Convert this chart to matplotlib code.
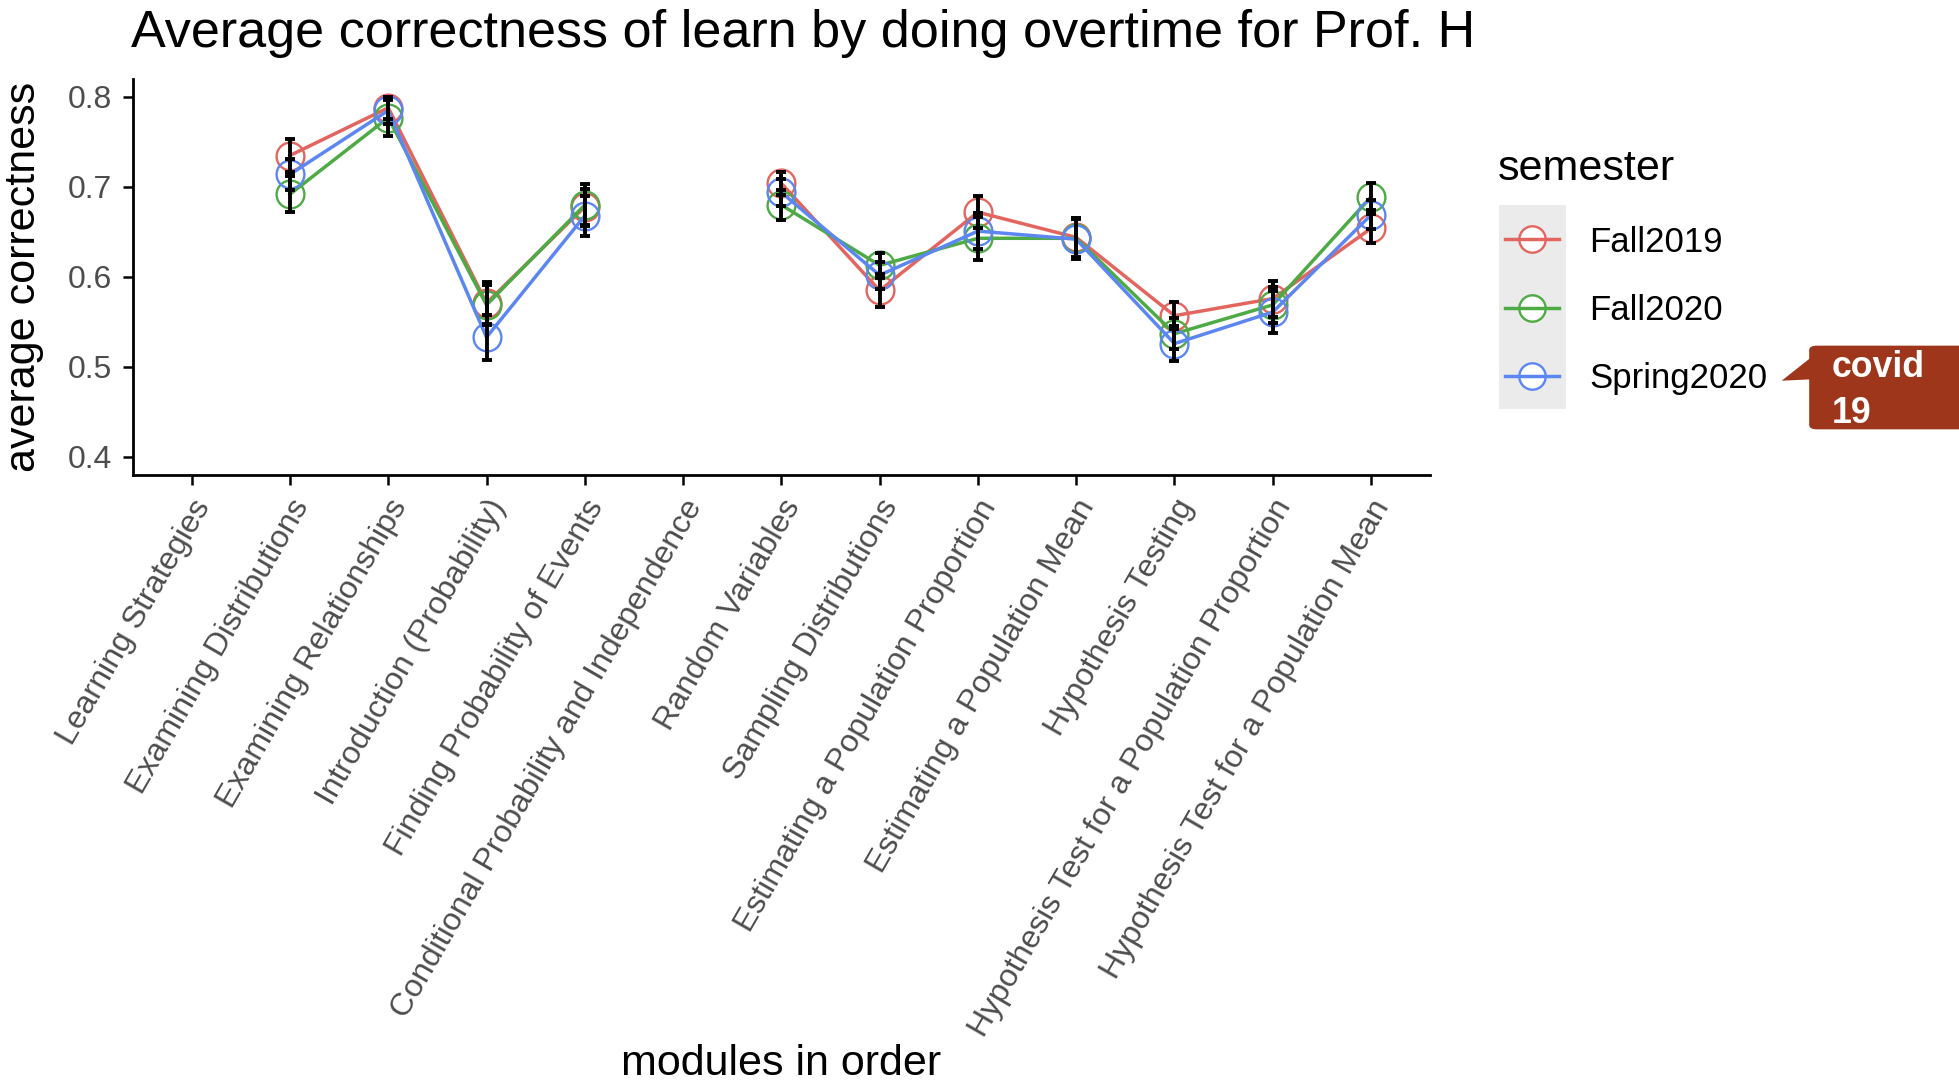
import numpy as np
import matplotlib
matplotlib.use("Agg")
import matplotlib.pyplot as plt
from matplotlib.lines import Line2D
from matplotlib.patches import Rectangle, FancyBboxPatch, Polygon
from matplotlib.transforms import ScaledTranslation

plt.rcParams['font.family'] = ['Liberation Sans', 'DejaVu Sans']

nan = np.nan
modules = ["Learning Strategies", "Examining Distributions", "Examining Relationships",
           "Introduction (Probability)", "Finding Probability of Events",
           "Conditional Probability and Independence", "Random Variables",
           "Sampling Distributions", "Estimating a Population Proportion",
           "Estimating a Population Mean", "Hypothesis Testing",
           "Hypothesis Test for a Population Proportion",
           "Hypothesis Test for a Population Mean"]
semesters = ["Fall2019", "Fall2020", "Spring2020"]

fall2019 = [nan, 0.735, 0.788, 0.571, 0.678, nan, 0.704, 0.585, 0.672, 0.644, 0.557, 0.576, 0.654]
fall2020 = [nan, 0.692, 0.777, 0.569, 0.680, nan, 0.680, 0.613, 0.643, 0.643, 0.537, 0.569, 0.689]
spring2020 = [nan, 0.714, 0.785, 0.533, 0.668, nan, 0.694, 0.602, 0.651, 0.642, 0.526, 0.561, 0.669]

fall2019_se = [nan, 0.018, 0.012, 0.023, 0.020, nan, 0.013, 0.018, 0.018, 0.022, 0.015, 0.020, 0.016]
fall2020_se = [nan, 0.020, 0.020, 0.022, 0.023, nan, 0.017, 0.014, 0.024, 0.022, 0.017, 0.020, 0.015]
spring2020_se = [nan, 0.017, 0.015, 0.025, 0.022, nan, 0.015, 0.015, 0.020, 0.022, 0.019, 0.023, 0.016]

colors = ["#E2665F", "#4DAA45", "#5C86F2"]
W, H = 1959, 1086


def fx(px):
    return px / W


def fy(py):
    return 1 - py / H


fig = plt.figure(figsize=(W / 100, H / 100), dpi=100)
ax = fig.add_axes([fx(132.7), fy(475), fx(1430 - 132.7), (475 - 79) / H])

x = np.arange(len(modules))
series = [fall2019, fall2020, spring2020]
errs = [fall2019_se, fall2020_se, spring2020_se]

for vals, c in zip(series, colors):
    ax.plot(x, vals, color=c, lw=2.5, marker='o', ms=20, mfc='none', mec=c, mew=1.7, zorder=2)
for vals, e in zip(series, errs):
    ax.errorbar(x, vals, yerr=e, fmt='none', ecolor='black', elinewidth=2.8,
                capsize=3.5, capthick=2.8, zorder=3)

ax.set_xlim(-0.6, 12.6)
ax.set_ylim(0.38, 0.82)
ax.set_yticks([0.4, 0.5, 0.6, 0.7, 0.8])
ax.set_yticklabels(["0.4", "0.5", "0.6", "0.7", "0.8"])
ax.set_xticks(x)
ax.set_xticklabels(modules, rotation=60, ha='right', va='center', rotation_mode='anchor')
ax.tick_params(axis='both', length=7, width=1.8, colors='black', labelcolor='#4D4D4D',
               labelsize=23, pad=8)
# nudge the rotated labels to sit like the ggplot ones
shift = ScaledTranslation(12 / 100, -6 / 100, fig.dpi_scale_trans)
for lab in ax.get_xticklabels():
    lab.set_transform(lab.get_transform() + shift)
for s in ['top', 'right']:
    ax.spines[s].set_visible(False)
for s in ['left', 'bottom']:
    ax.spines[s].set_linewidth(2)

fig.text(fx(131), fy(46.7), "Average correctness of learn by doing overtime for Prof. H",
         fontsize=37.5, ha='left', va='baseline')
fig.text(fx(781), fy(1075), "modules in order", fontsize=31, ha='center', va='baseline')
fig.text(fx(24), fy(277), "average correctness", fontsize=31, rotation=90,
         ha='center', va='center')

# legend
fig.text(fx(1498), fy(180), "semester", fontsize=31, ha='left', va='baseline')
fig.add_artist(Rectangle((fx(1499), fy(409)), fx(67), (409 - 205) / H,
                         transform=fig.transFigure, facecolor='#EBEBEB', edgecolor='none'))
key_y = [239.3, 307.7, 376]
for name, c, ky in zip(semesters, colors, key_y):
    fig.add_artist(Line2D([fx(1532)], [fy(ky)], transform=fig.transFigure, marker='o',
                          ms=19, mfc='white', mec=c, mew=1.7))
    fig.add_artist(Line2D([fx(1505), fx(1559)], [fy(ky), fy(ky)], transform=fig.transFigure,
                          color=c, lw=2.5))
    fig.text(fx(1589), fy(ky + 3), name, fontsize=25, ha='left', va='center')

# covid callout
callout = '#9E361B'
fig.add_artist(FancyBboxPatch((fx(1817), fy(425)), fx(150), (425 - 350) / H,
                              boxstyle="round,pad=0.004", transform=fig.transFigure,
                              facecolor=callout, edgecolor='none'))
fig.add_artist(Polygon([(fx(1812), fy(356.7)), (fx(1781.7), fy(380.7)), (fx(1812), fy(379.3))],
                       closed=True, transform=fig.transFigure, facecolor=callout, edgecolor='none'))
fig.text(fx(1832), fy(376.7), "covid", fontsize=25.7, fontweight='bold', color='white',
         ha='left', va='baseline')
fig.text(fx(1832), fy(422.7), "19", fontsize=25.7, fontweight='bold', color='white',
         ha='left', va='baseline')

fig.savefig("out.png", dpi=100)
